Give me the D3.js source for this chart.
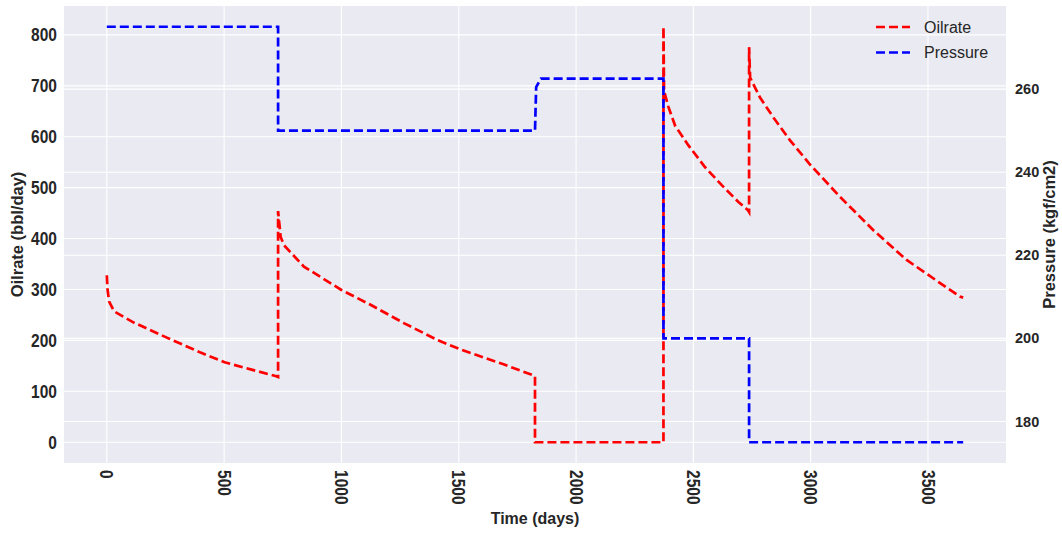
<html>
<head>
<style>
  body { margin: 0; background: white; }
  text { font-family: "Liberation Sans", Arial, sans-serif; fill: #262626; }
  text.tick { font-weight: bold; font-size: 18.5px; }
</style>
</head>
<body>
<script src="https://d3js.org/d3.v7.min.js"></script>
<script>

// oil rate (bbl/day) vs time (days)
var oilTime = [0, 3, 10, 31, 115, 258, 400, 502, 613, 719, 730, 730, 741, 755, 840, 1000, 1124, 1266, 1408, 1503, 1691, 1825, 1825,
  2372.5, 2372.5, 2375, 2394, 2422, 2479, 2550, 2621, 2692, 2732, 2737.5, 2737.5, 2742, 2784, 2841, 2912, 3000, 3125, 3266, 3409, 3500, 3636, 3650];
var oilRate = [328, 300, 276, 257, 235, 205, 176, 157, 143, 130, 128, 454, 403, 387, 345, 299, 270, 234, 201, 183, 153, 130, 0,
  0, 816, 690, 658, 622, 583, 540, 505, 472, 456, 452, 776, 716, 677, 638, 593, 544, 482, 417, 358, 329, 286, 284];

// pressure (kgf/cm2)
var pressureTime = [0, 730, 730, 1825, 1830, 1850, 2372.5, 2372.5, 2737.5, 2737.5, 3650];
var pressure = [275, 275, 250, 250, 260.5, 262.5, 262.5, 200, 200, 175, 175];

var xTicks = [0, 500, 1000, 1500, 2000, 2500, 3000, 3500];
var oilTicks = [0, 100, 200, 300, 400, 500, 600, 700, 800];
var pressureTicks = [180, 200, 220, 240, 260];

var width = 1062, height = 534;
// plot box (note: "top" is taken by window.top)
var pLeft = 64, pRight = 1006, pTop = 6, pBottom = 463;

var svg = d3.select("body").append("svg")
  .attr("width", width)
  .attr("height", height);

// 5% margins like matplotlib
var x = d3.scaleLinear().domain([-182.5, 3832.5]).range([pLeft, pRight]);
var yOil = d3.scaleLinear().domain([-40.8, 856.8]).range([pBottom, pTop]);
var yP = d3.scaleLinear().domain([170, 280]).range([pBottom, pTop]);

svg.append("rect")
  .attr("x", pLeft).attr("y", pTop)
  .attr("width", pRight - pLeft).attr("height", pBottom - pTop)
  .style("fill", "#eaeaf2");

var grid = svg.append("g").style("stroke", "white").style("stroke-width", 1.1);
grid.selectAll("line.gx").data(xTicks).enter().append("line")
  .attr("x1", function(d) { return x(d); }).attr("x2", function(d) { return x(d); })
  .attr("y1", pTop).attr("y2", pBottom);
grid.selectAll("line.gy").data(oilTicks).enter().append("line")
  .attr("y1", function(d) { return yOil(d); }).attr("y2", function(d) { return yOil(d); })
  .attr("x1", pLeft).attr("x2", pRight);
grid.selectAll("line.gp").data(pressureTicks).enter().append("line")
  .attr("y1", function(d) { return yP(d); }).attr("y2", function(d) { return yP(d); })
  .attr("x1", pLeft).attr("x2", pRight);

var oilLine = d3.line()
  .x(function(d, i) { return x(oilTime[i]); })
  .y(function(d) { return yOil(d); });
var pLine = d3.line()
  .x(function(d, i) { return x(pressureTime[i]); })
  .y(function(d) { return yP(d); });

svg.append("path")
  .attr("d", oilLine(oilRate))
  .style("fill", "none").style("stroke", "red")
  .style("stroke-width", 2.7).style("stroke-dasharray", "9,4");

svg.append("path")
  .attr("d", pLine(pressure))
  .style("fill", "none").style("stroke", "blue")
  .style("stroke-width", 2.7).style("stroke-dasharray", "9,4");

// tick labels: tall, narrow bold digits
svg.append("g").selectAll("text").data(oilTicks).enter().append("text")
  .attr("class", "tick")
  .attr("transform", function(d) { return "translate(" + (pLeft - 7) + "," + yOil(d) + ") scale(0.84,1)"; })
  .attr("dy", "0.35em")
  .attr("text-anchor", "end")
  .text(function(d) { return d; });

svg.append("g").selectAll("text").data(pressureTicks).enter().append("text")
  .attr("x", pRight + 9)
  .attr("y", function(d) { return yP(d); })
  .attr("dy", "0.35em")
  .attr("text-anchor", "start")
  .style("font-size", "14.5px").style("font-weight", "bold")
  .text(function(d) { return d; });

svg.append("g").selectAll("text").data(xTicks).enter().append("text")
  .attr("class", "tick")
  .attr("transform", function(d) { return "translate(" + x(d) + "," + (pBottom + 7) + ") rotate(90) scale(0.84,1)"; })
  .attr("dy", "0.35em")
  .attr("text-anchor", "start")
  .text(function(d) { return d; });

// axis titles
svg.append("text")
  .attr("x", (pLeft + pRight) / 2).attr("y", 524)
  .attr("text-anchor", "middle")
  .style("font-size", "16px").style("font-weight", "bold")
  .text("Time (days)");

svg.append("text")
  .attr("transform", "translate(23," + (pTop + pBottom) / 2 + ") rotate(-90)")
  .attr("text-anchor", "middle")
  .style("font-size", "16.5px").style("font-weight", "bold")
  .text("Oilrate (bbl/day)");

svg.append("text")
  .attr("transform", "translate(1055," + (pTop + pBottom) / 2 + ") rotate(-90)")
  .attr("text-anchor", "middle")
  .style("font-size", "16.5px").style("font-weight", "bold")
  .text("Pressure (kgf/cm2)");

// legend
var legend = [["Oilrate", "red"], ["Pressure", "blue"]];
var lg = svg.append("g").selectAll("g").data(legend).enter().append("g")
  .attr("transform", function(d, i) { return "translate(876," + (27 + i * 25.5) + ")"; });
lg.append("line")
  .attr("x1", 0).attr("x2", 34).attr("y1", 0).attr("y2", 0)
  .style("stroke", function(d) { return d[1]; })
  .style("stroke-width", 2.7).style("stroke-dasharray", "9,4");
lg.append("text")
  .attr("x", 48).attr("dy", "0.35em")
  .style("font-size", "16px")
  .text(function(d) { return d[0]; });

</script>
</body>
</html>
